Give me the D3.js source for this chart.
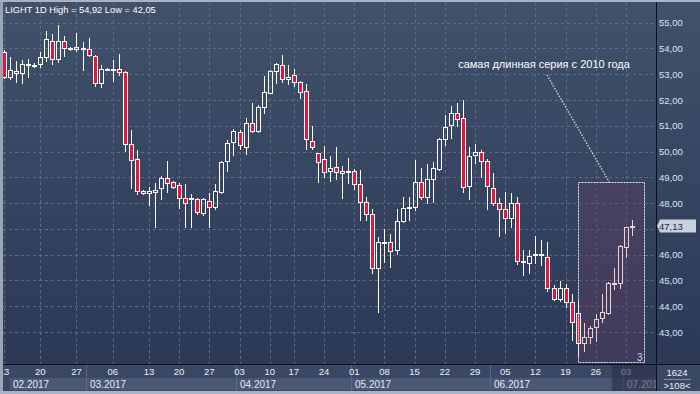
<!DOCTYPE html>
<html><head><meta charset="utf-8">
<script src="https://cdn.jsdelivr.net/npm/d3@7"></script>
<style>html,body{margin:0;padding:0;background:#3a4862;}svg{display:block;}</style>
</head><body>
<svg id="c" width="700" height="394"></svg>
<script>
const dates = [
"2017-02-13","2017-02-14","2017-02-15","2017-02-16","2017-02-17","2017-02-19",
"2017-02-20","2017-02-21","2017-02-22","2017-02-23","2017-02-24","2017-02-26",
"2017-02-27","2017-02-28","2017-03-01","2017-03-02","2017-03-03","2017-03-05",
"2017-03-06","2017-03-07","2017-03-08","2017-03-09","2017-03-10","2017-03-12",
"2017-03-13","2017-03-14","2017-03-15","2017-03-16","2017-03-17",
"2017-03-20","2017-03-21","2017-03-22","2017-03-23","2017-03-24",
"2017-03-27","2017-03-28","2017-03-29","2017-03-30","2017-03-31",
"2017-04-03","2017-04-04","2017-04-05","2017-04-06","2017-04-07",
"2017-04-10","2017-04-11","2017-04-12","2017-04-13",
"2017-04-17","2017-04-18","2017-04-19","2017-04-20","2017-04-21",
"2017-04-24","2017-04-25","2017-04-26","2017-04-27","2017-04-28",
"2017-05-01","2017-05-02","2017-05-03","2017-05-04","2017-05-05",
"2017-05-08","2017-05-09","2017-05-10","2017-05-11","2017-05-12",
"2017-05-15","2017-05-16","2017-05-17","2017-05-18","2017-05-19",
"2017-05-22","2017-05-23","2017-05-24","2017-05-25","2017-05-26",
"2017-05-29","2017-05-30","2017-05-31","2017-06-01","2017-06-02",
"2017-06-05","2017-06-06","2017-06-07","2017-06-08","2017-06-09",
"2017-06-12","2017-06-13","2017-06-14","2017-06-15","2017-06-16",
"2017-06-19","2017-06-20","2017-06-21","2017-06-22","2017-06-23",
"2017-06-26","2017-06-27","2017-06-28","2017-06-29","2017-06-30",
"2017-07-03","2017-07-04"];

const open  = [53.86,52.89,53.12,53.05,53.38,53.32,53.40,53.67,54.29,53.59,54.29,53.98,53.98,54.02,53.98,53.71,52.66,53.20,53.22,53.20,
53.09,50.29,49.71,48.47,48.39,48.43,48.59,48.97,48.82,48.70,48.20,48.16,48.16,47.62,48.08,47.85,48.43,49.63,50.37,50.76,
50.18,51.11,50.80,51.73,52.27,53.12,53.36,52.81,52.97,52.70,52.35,50.41,49.94,49.71,49.25,49.40,49.17,49.21,49.25,48.74,
48.04,47.58,45.48,46.45,46.49,46.18,47.31,47.81,47.85,48.82,48.24,48.93,49.32,50.49,51.03,51.50,51.30,48.66,49.87,49.98,
49.63,48.59,48.00,47.77,47.42,48.00,45.75,45.68,46.01,46.03,45.91,44.71,44.28,44.71,44.16,43.74,42.57,42.81,43.19,43.54,
43.74,44.90,44.90,46.30,47.07];
const high  = [53.94,53.67,53.51,53.55,53.59,53.43,53.86,54.68,54.56,54.92,54.48,54.06,54.60,54.25,54.40,53.74,53.36,53.24,53.55,53.78,
53.12,50.84,50.06,48.51,48.62,48.78,49.05,49.63,48.86,48.78,48.74,48.35,48.20,48.20,48.39,48.74,49.63,50.45,50.88,50.84,
51.30,51.88,51.81,52.93,53.16,53.43,53.74,53.36,53.20,52.74,52.62,50.99,49.94,50.22,49.83,50.18,49.44,49.75,49.32,49.28,
48.24,47.77,46.69,47.00,46.80,47.77,48.24,48.24,49.67,49.36,49.52,49.59,50.53,51.42,51.77,51.88,52.00,50.18,50.29,50.06,
49.71,49.17,48.20,48.43,48.39,48.24,46.18,46.18,46.72,46.57,46.49,44.82,44.98,44.86,44.47,44.24,43.35,43.23,43.70,44.47,
44.94,45.48,46.37,47.07,47.34];
const low   = [52.85,52.81,52.70,52.66,52.89,53.28,53.28,53.51,53.40,53.47,53.71,53.94,53.90,53.16,53.71,52.54,52.50,53.16,52.74,52.97,
50.02,48.59,48.35,48.35,47.93,47.07,48.16,48.43,48.59,47.81,47.07,47.07,47.58,47.54,47.07,47.77,48.39,49.25,49.87,50.10,
49.90,50.76,50.76,51.50,52.27,52.66,52.70,52.62,52.54,52.08,50.10,50.10,48.82,49.01,48.86,48.93,48.20,48.78,48.55,47.34,
47.34,45.29,43.78,45.72,45.52,46.03,47.27,47.34,47.73,48.16,48.00,48.04,49.28,50.25,50.53,51.00,48.43,48.16,49.56,49.01,
47.77,47.93,46.72,46.84,47.07,45.64,45.21,45.29,45.68,45.60,44.59,44.24,44.20,43.97,42.69,42.05,42.26,42.57,42.65,43.39,
43.70,44.67,44.71,45.91,46.76];
const close = [52.89,53.16,53.05,53.40,53.40,53.36,53.67,54.37,53.59,54.29,54.02,54.02,54.06,53.98,53.74,52.66,53.20,53.22,53.20,53.09,
50.29,49.67,48.47,48.39,48.47,48.51,48.97,48.78,48.62,48.20,48.00,48.20,47.66,48.16,47.85,48.47,49.59,50.33,50.80,50.25,
51.11,50.80,51.73,52.31,53.12,53.40,52.81,52.89,52.70,52.31,50.49,50.18,49.59,49.21,49.36,49.21,49.25,49.23,48.74,48.04,
47.58,45.48,46.49,46.49,46.14,47.31,47.81,47.85,48.82,48.24,48.93,49.36,50.49,50.95,51.50,51.26,48.62,49.83,49.98,49.63,
48.66,48.00,47.77,47.42,48.00,45.75,45.72,45.95,46.03,46.01,44.71,44.28,44.71,44.16,43.39,42.57,42.81,43.16,43.50,43.78,
44.90,44.92,46.34,47.07,47.13];

const priceTicks = [43,44,45,46,47,48,49,50,51,52,53,54,55];
const monthLabels = ["02.2017","03.2017","04.2017","05.2017","06.2017","07.2017"];
const headerText = "LIGHT 1D High = 54,92 Low = 42,05";
const annotationText = "самая длинная серия с 2010 года";
const highlightStart = "2017-06-21";
const highlightTop = 48.82;
const lastPriceLabel = "47,13";
const cornerTop = "1624", cornerBottom = ">108<";

const W = 700, H = 394;
const plot = {l: 3, r: 656, t: 2, b: 364};
const FONT = "Liberation Sans, Arial, sans-serif";
const svg = d3.select("#c");
const fmt = v => d3.format(".2f")(v).replace(".", ",");

const x = d3.scalePoint().domain(dates).range([4, 632]);
const step = x.step();
const y = d3.scaleLinear().domain([43, 52]).range([332, 100]);

const defs = svg.append("defs");
const g1 = defs.append("linearGradient").attr("id","bg").attr("x1",0).attr("y1",0).attr("x2",0).attr("y2",1);
g1.append("stop").attr("offset","0%").attr("stop-color","#41506b");
g1.append("stop").attr("offset","100%").attr("stop-color","#2b3956");
defs.append("clipPath").attr("id","pc").append("rect")
  .attr("x",plot.l).attr("y",plot.t).attr("width",plot.r-plot.l).attr("height",plot.b-plot.t);
defs.append("clipPath").attr("id","ac").append("rect")
  .attr("x",plot.l).attr("y",plot.b).attr("width",plot.r-plot.l).attr("height",H-plot.b);

// background
svg.append("rect").attr("width",W).attr("height",H).attr("fill","#3a4862");
svg.append("rect").attr("x",0).attr("y",0).attr("width",plot.r).attr("height",plot.b).attr("fill","url(#bg)");
svg.append("rect").attr("x",plot.r).attr("y",0).attr("width",W-plot.r).attr("height",plot.b).attr("fill","url(#bg)");

const P = svg.append("g").attr("clip-path","url(#pc)");

// weeks / months
const parsed = dates.map(d => new Date(d + "T00:00:00"));
const weekStarts = dates.filter((d,i) => parsed[i].getDay() === 1);
const monthStarts = dates.filter((d,i) => i === 0 || parsed[i].getMonth() !== parsed[i-1].getMonth());

// grid
P.selectAll(".hg").data(priceTicks).join("line")
  .attr("x1",plot.l).attr("x2",plot.r)
  .attr("y1",d=>Math.round(y(d))+0.5).attr("y2",d=>Math.round(y(d))+0.5)
  .attr("stroke","#5c6c88").attr("stroke-dasharray","3,3").attr("stroke-width",1);
P.selectAll(".vg").data(weekStarts).join("line")
  .attr("x1",d=>Math.round(x(d))+0.5).attr("x2",d=>Math.round(x(d))+0.5)
  .attr("y1",plot.t).attr("y2",plot.b)
  .attr("stroke","#5c6c88").attr("stroke-dasharray","3,3").attr("stroke-width",1);

// highlight box
const hx0 = Math.round(x(highlightStart)) + 0.5;
const hx1 = Math.round(x(dates[dates.length-1]) + 2*step) + 0.5;
const hy0 = Math.round(y(highlightTop)) + 0.5;
const hy1 = plot.b - 1.5;
P.append("rect").attr("x",hx0).attr("y",hy0).attr("width",hx1-hx0).attr("height",hy1-hy0)
  .attr("fill","#5a3f62").attr("fill-opacity",0.45);

// candles
const data = dates.map((d,i)=>({d,o:open[i],h:high[i],l:low[i],c:close[i],i}));
const hiIdx = dates.indexOf(highlightStart);
const C = P.append("g").attr("shape-rendering","crispEdges");
data.forEach(k => {
  const cx = Math.round(x(k.d));
  const up = k.c >= k.o;
  const top = Math.round(y(Math.max(k.o,k.c)));
  let bot = Math.round(y(Math.min(k.o,k.c)));
  if (bot - top < 1) bot = top + 1;
  const col = k.i > hiIdx ? "#f4cfd2" : "#ffffff";
  C.append("line").attr("x1",cx+0.5).attr("x2",cx+0.5).attr("y1",Math.round(y(k.h))).attr("y2",top)
    .attr("stroke",col);
  C.append("line").attr("x1",cx+0.5).attr("x2",cx+0.5).attr("y1",bot).attr("y2",Math.round(y(k.l))+1)
    .attr("stroke",col);
  C.append("rect").attr("x",cx-1.5).attr("y",top+0.5).attr("width",4).attr("height",bot-top)
    .attr("fill", up ? "none" : "#e3173e").attr("stroke",col).attr("stroke-width",1);
});

// highlight border
P.append("rect").attr("x",hx0).attr("y",hy0).attr("width",hx1-hx0).attr("height",hy1-hy0)
  .attr("fill","none").attr("stroke","#e8e8ee").attr("stroke-dasharray","2,1").attr("stroke-width",1);
P.append("text").attr("x",hx1-2).attr("y",hy1-2).attr("text-anchor","end")
  .attr("font-family",FONT).attr("font-size",10).attr("fill","#c9d6f2").text("3");

// annotation
const ax = 544;
P.append("text").attr("x",ax).attr("y",68).attr("text-anchor","middle")
  .attr("font-family",FONT).attr("font-size",11).attr("fill","#ffffff").text(annotationText);
P.append("line").attr("x1",ax+3).attr("y1",75).attr("x2",(hx0+hx1)/2-2).attr("y2",hy0)
  .attr("stroke","#d8dce4").attr("stroke-width",1.3).attr("stroke-dasharray","1.5,1.5");

// header
svg.append("text").attr("x",5).attr("y",13)
  .attr("font-family",FONT).attr("font-size",9.3).attr("fill","#ffffff").text(headerText);

// right axis
const lastClose = close[close.length-1];
const ly = Math.round(y(lastClose));
svg.selectAll(".yl").data(priceTicks.filter(d => Math.abs(y(d) - ly) > 10)).join("text")
  .attr("x",659).attr("y",d=>y(d)+3.5)
  .attr("font-family",FONT).attr("font-size",9.5).attr("fill","#d8e4f6")
  .text(fmt);

// last price label
svg.append("path")
  .attr("d",`M${plot.r+1},${ly} L${plot.r+4},${ly-6.5} L${696},${ly-6.5} L${696},${ly+6.5} L${plot.r+4},${ly+6.5} Z`)
  .attr("fill","#c9d1dd");
svg.append("text").attr("x",659).attr("y",ly+3.5)
  .attr("font-family",FONT).attr("font-size",9.5).attr("fill","#1b2a4d")
  .text(lastPriceLabel);

// bottom axis
const A = svg.append("g").attr("clip-path","url(#ac)");
A.append("rect").attr("x",plot.l).attr("y",plot.b).attr("width",plot.r-plot.l).attr("height",H-plot.b).attr("fill","#3a4863");
const mEdges = monthStarts.map((d,i)=> i===0 ? 9 : Math.round(x(d) - step/2));
mEdges.forEach((e,i)=>{
  const next = i < mEdges.length-1 ? mEdges[i+1] : plot.r;
  A.append("rect").attr("x",e+1).attr("y",378).attr("width",next-e-1).attr("height",12).attr("fill","#4a5876");
  A.append("text").attr("x",e+4).attr("y",388)
    .attr("font-family",FONT).attr("font-size",10).attr("fill","#e4ebf6").text(monthLabels[i]);
  if (i>0) A.append("line").attr("x1",e+0.5).attr("x2",e+0.5).attr("y1",plot.b).attr("y2",391).attr("stroke","#5b6985");
});
A.selectAll(".xl").data(weekStarts).join("text")
  .attr("x",d=>x(d)).attr("y",375).attr("text-anchor","middle")
  .attr("font-family",FONT).attr("font-size",9.5).attr("fill","#e8eef8")
  .text(d=>d.slice(8,10));
A.append("rect").attr("x",612).attr("y",plot.b+1).attr("width",plot.r-612).attr("height",27)
  .attr("fill","#2a2f48").attr("fill-opacity",0.6);

// corner box
svg.append("rect").attr("x",plot.r).attr("y",plot.b).attr("width",W-plot.r).attr("height",H-plot.b).attr("fill","#3a4863");
svg.append("text").attr("x",677).attr("y",376).attr("text-anchor","middle")
  .attr("font-family",FONT).attr("font-size",9.5).attr("fill","#e8eef8").text(cornerTop);
svg.append("line").attr("x1",664).attr("x2",691).attr("y1",379.5).attr("y2",379.5).attr("stroke","#7f8ca3");
svg.append("text").attr("x",677).attr("y",389).attr("text-anchor","middle")
  .attr("font-family",FONT).attr("font-size",9.5).attr("fill","#e8eef8").text(cornerBottom);

// axis lines and frame
svg.append("line").attr("x1",plot.r+0.5).attr("x2",plot.r+0.5).attr("y1",0).attr("y2",H-3).attr("stroke","#0a0f1a");
svg.append("line").attr("x1",plot.l).attr("x2",W).attr("y1",plot.b+0.5).attr("y2",plot.b+0.5).attr("stroke","#0a0f1a");
svg.append("rect").attr("x",0).attr("y",0).attr("width",3).attr("height",H).attr("fill","#9aa5b6");
svg.append("rect").attr("x",0).attr("y",0).attr("width",W).attr("height",2).attr("fill","#aab3c1");
svg.append("rect").attr("x",0).attr("y",H-3).attr("width",W).attr("height",3).attr("fill","#aab3c1");
</script>
</body></html>
